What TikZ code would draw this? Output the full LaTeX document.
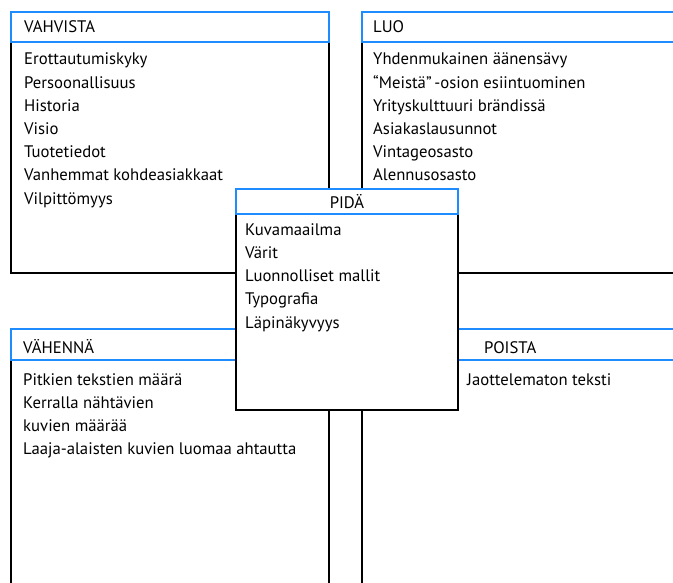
\documentclass[tikz,border=0pt]{standalone}
\usepackage{fontspec}
\setmainfont{PT Sans}
\definecolor{hdrblue}{RGB}{30,140,255}
\tikzset{
  x=1pt, y=-1pt,
  bodybox/.style={draw=black, line width=2pt, fill=white},
  hdrbox/.style={draw=hdrblue, line width=2pt, fill=white},
  item/.style={anchor=base west, inner sep=0pt, font=\fontsize{16.7}{20}\selectfont},
  hdrtext/.style={anchor=base west, inner sep=0pt, font=\fontsize{16.7}{20}\selectfont},
}
\begin{document}
\begin{tikzpicture}
\useasboundingbox (0,0) rectangle (673,583);
\clip (0,0) rectangle (673,583);
% VAHVISTA
\path[bodybox] (11,42) rectangle (329,273);
\path[hdrbox] (11,12) rectangle (329,42);
\node[hdrtext] (vahh) at (24,33) {VAHVISTA};
\foreach \t [count=\i] in {Erottautumiskyky,Persoonallisuus,Historia,Visio,Tuotetiedot,Vanhemmat kohdeasiakkaat,Vilpittömyys}
  \node[item] (va\i) at (24,{65+23.2*(\i-1)}) {\t};
% LUO
\path[bodybox] (362,42) rectangle (700,273);
\path[hdrbox] (362,12) rectangle (700,42);
\node[hdrtext] (luoh) at (373,33) {LUO};
\foreach \t [count=\i] in {Yhdenmukainen äänensävy,{“Meistä”\,-osion esiintuominen},Yrityskulttuuri brändissä,Asiakaslausunnot,Vintageosasto,Alennusosasto}
  \node[item] (lu\i) at (373,{65+23.2*(\i-1)}) {\t};
% VÄHENNÄ
\path[bodybox] (11,360) rectangle (329,640);
\path[hdrbox] (11,329) rectangle (329,360);
\node[hdrtext] (vah2) at (23,353) {VÄHENNÄ};
\foreach \t [count=\i] in {Pitkien tekstien määrä,Kerralla nähtävien,kuvien määrää,Laaja-alaisten kuvien luomaa ahtautta}
  \node[item] (ve\i) at (23,{385+23.2*(\i-1)}) {\t};
% POISTA
\path[bodybox] (362,360) rectangle (700,640);
\path[hdrbox] (362,329) rectangle (700,360);
\node[hdrtext] (poh) at (484,353) {POISTA};
\node[item] (po1) at (467,385) {Jaottelematon teksti};
% PIDÄ
\path[bodybox] (236,214) rectangle (458,410);
\path[hdrbox] (236,189) rectangle (458,214);
\node[anchor=base, inner sep=0pt, font=\fontsize{16.7}{20}\selectfont] (pih) at (347,209) {PIDÄ};
\foreach \t [count=\i] in {Kuvamaailma,Värit,Luonnolliset mallit,Typografia,Läpinäkyvyys}
  \node[item] (pi\i) at (245,{236+23*(\i-1)}) {\t};
\end{tikzpicture}
\end{document}
